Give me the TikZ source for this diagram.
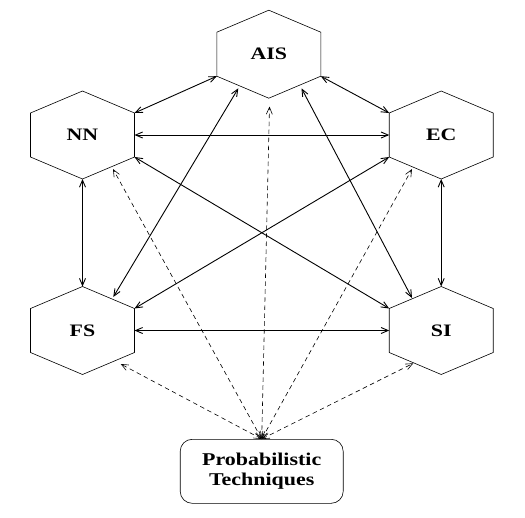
\documentclass[tikz,border=0pt]{standalone}
\usepackage{fontspec}
\setmainfont{Liberation Serif}
\usetikzlibrary{arrows.meta}
\tikzset{
  hexline/.style={draw=black, line width=0.6pt, line join=miter},
  lbl/.style={font=\fontsize{17.5}{20}\selectfont\bfseries, xscale=1.25, transform shape, inner sep=0pt},
  barb/.style={line width=0.9pt, {Straight Barb[length=7pt,width=6pt]}-{Straight Barb[length=7pt,width=6pt]}},
  dbarb/.style={line width=0.6pt, dash pattern=on 4.5pt off 3.5pt, {Straight Barb[length=7pt,width=6pt]}-{Straight Barb[length=7pt,width=6pt]}},
  ptbox/.style={draw, line width=0.6pt, rounded corners=12pt, minimum width=163pt, minimum height=64pt, inner sep=0pt}
}
\newcommand\hexnode[4]{%
  \begin{scope}[shift={(#2,#3)}]
    \coordinate (#1-t) at (0,-44);
    \coordinate (#1-ur) at (52,-22);
    \coordinate (#1-lr) at (52,22);
    \coordinate (#1-b) at (0,44);
    \coordinate (#1-ll) at (-52,22);
    \coordinate (#1-ul) at (-52,-22);
    \draw[hexline] (#1-t) -- (#1-ur) -- (#1-lr) -- (#1-b) -- (#1-ll) -- (#1-ul) -- cycle;
    \node[lbl] (#1) at (0,0) {#4};
  \end{scope}}
\begin{document}
\begin{tikzpicture}[x=1pt,y=-1pt]
\useasboundingbox[fill=white] (0,0) rectangle (525,517);
\hexnode{AIS}{268.8}{54.2}{AIS}
\hexnode{NN}{82.5}{135}{NN}
\hexnode{EC}{441.2}{135}{EC}
\hexnode{FS}{82.5}{330.5}{FS}
\hexnode{SI}{441.2}{330.5}{SI}
\node[ptbox] (PT) at (261.7,471.3) {\scalebox{1.22}[1]{\fontsize{18}{20}\selectfont\bfseries\begin{tabular}{@{}c@{}}Probabilistic\\Techniques\end{tabular}}};
% extra end points
\coordinate (AISa) at (238.3,88.3);
\coordinate (AISb) at (301.5,88.3);
\coordinate (FSa) at (113.3,297);
\coordinate (SIa) at (412,298);
\coordinate (NNd) at (113,169);
\coordinate (AISd) at (269.5,106.5);
\coordinate (ECd) at (412,169);
\coordinate (FSd) at (120.7,364);
\coordinate (SId) at (413.3,363.3);
% solid connectors
\draw[barb] (AIS-ll) -- (NN-ur);
\draw[barb] (AIS-lr) -- (EC-ul);
\draw[barb] (NN-lr |- NN) -- (EC-ll |- EC);
\draw[barb] (NN-b) -- (FS-t);
\draw[barb] (EC-b) -- (SI-t);
\draw[barb] (FS-lr |- FS) -- (SI-ll |- SI);
\draw[barb] (AISa) -- (FSa);
\draw[barb] (AISb) -- (SIa);
\draw[barb] (NN-lr) -- (SI-ul);
\draw[barb] (EC-ll) -- (FS-ur);
% dashed connectors
\draw[dbarb] (PT.north) -- (NNd);
\draw[dbarb] (PT.north) -- (AISd);
\draw[dbarb] (PT.north) -- (ECd);
\draw[dbarb] (PT.north) -- (FSd);
\draw[dbarb] (PT.north) -- (SId);
\end{tikzpicture}
\end{document}
